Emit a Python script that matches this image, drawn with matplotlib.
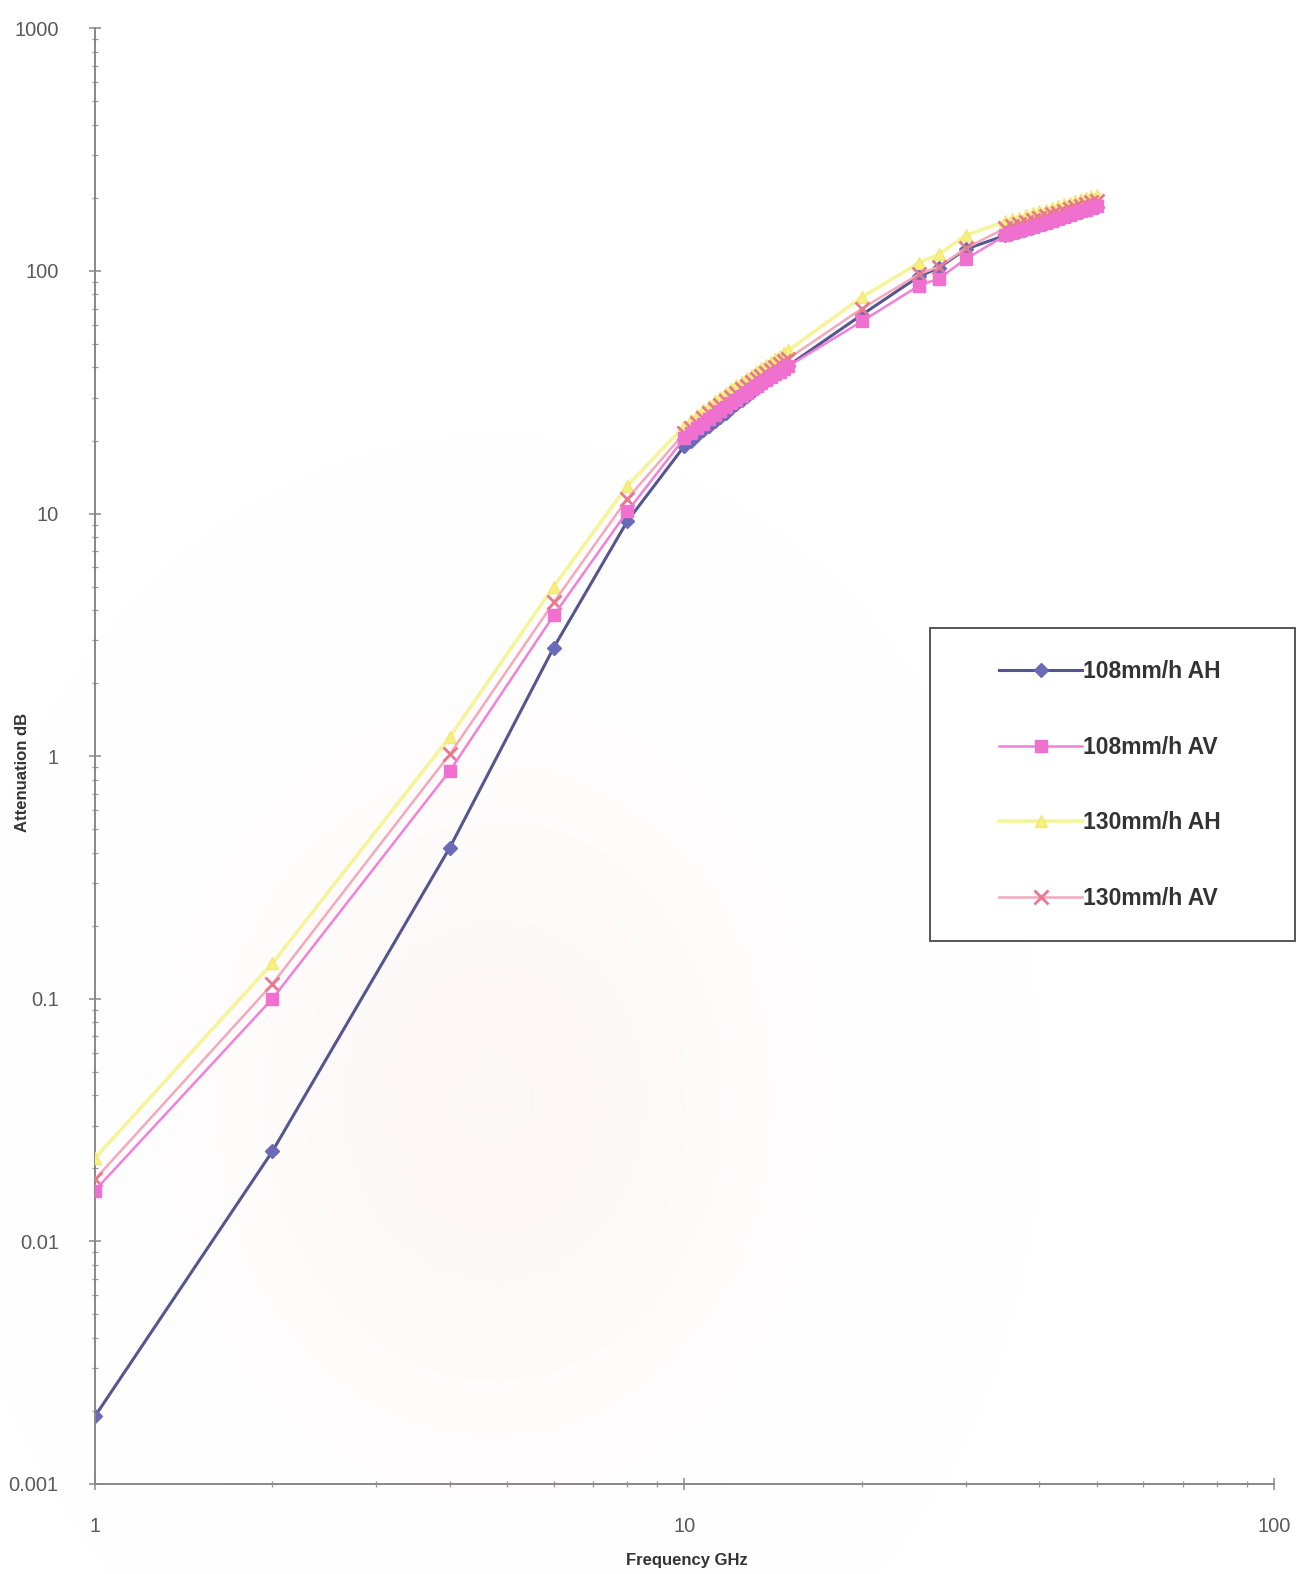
import matplotlib
matplotlib.use("Agg")
import numpy as np
import matplotlib.pyplot as plt
from matplotlib.patches import Rectangle
from matplotlib.ticker import FixedLocator, FixedFormatter, LogLocator, NullFormatter

plt.rcParams['font.family'] = ['Liberation Sans', 'DejaVu Sans']

# frequency points (GHz)
freq = [1, 2, 4, 6, 8,
        10, 10.25, 10.5, 10.75, 11, 11.25, 11.5, 11.75, 12, 12.25, 12.5,
        12.75, 13, 13.25, 13.5, 13.75, 14, 14.25, 14.5, 14.75, 15,
        20, 25, 27, 30,
        35, 36, 37, 38, 39, 40, 41, 42, 43, 44, 45, 46, 47, 48, 49, 50]

# attenuation (dB)
ah_108 = [0.0019, 0.0235, 0.42, 2.8, 9.3,
          19, 20, 21, 22, 23, 24, 25, 26, 27.3, 28.4, 29.5,
          30.6, 31.7, 32.8, 34, 35.2, 36.3, 37.4, 38.5, 39.6, 40.7,
          66, 95, 103, 123,
          140, 143, 146, 149, 152, 155, 158, 161, 164, 167, 170, 172, 175, 178, 181, 184]

av_108 = [0.0162, 0.1, 0.87, 3.8, 10.2,
          20.5, 21.5, 22.5, 23.5, 24.5, 25.5, 26.5, 27.5, 28.5, 29.5, 30.5,
          31.5, 32.5, 33.5, 34.5, 35.5, 36.5, 37.5, 38.5, 39.5, 40.5,
          62, 87, 93, 112,
          140, 143, 146, 149, 152, 155, 158, 161, 164, 167, 170, 173, 176, 179, 182, 185]

ah_130 = [0.022, 0.14, 1.2, 5.0, 13,
          23, 24.2, 25.4, 26.6, 27.8, 29, 30.2, 31.4, 32.6, 33.8, 35,
          36.2, 37.4, 38.6, 39.8, 41, 42.2, 43.4, 44.6, 45.8, 47,
          78, 108, 117, 140,
          160, 163, 166, 170, 173, 176, 179, 182, 185, 188, 191, 194, 197, 200, 203, 206]

av_130 = [0.018, 0.115, 1.02, 4.3, 11.5,
          21.5, 22.6, 23.7, 24.8, 25.9, 27, 28.1, 29.2, 30.3, 31.4, 32.5,
          33.6, 34.7, 35.8, 36.9, 38, 39.1, 40.2, 41.3, 42.4, 43.5,
          70, 97, 104, 124,
          150, 153, 156, 159, 162, 165, 168, 171, 174, 177, 180, 183, 186, 189, 192, 195]

labels = ['108mm/h AH', '108mm/h AV', '130mm/h AH', '130mm/h AV']
y_ticks = [0.001, 0.01, 0.1, 1, 10, 100, 1000]
y_tick_labels = ['0.001', '0.01', '0.1', '1', '10', '100', '1000']
x_ticks = [1, 10, 100]
x_tick_labels = ['1', '10', '100']

fig = plt.figure(figsize=(13, 15.74), dpi=100)

# faint pink tint of the scanned page
bg = fig.add_axes([0, 0, 1, 1], zorder=-10)
gx, gy = np.meshgrid(np.linspace(0, 1, 260), np.linspace(0, 1, 315))
glow = np.exp(-((gx - 0.38) / 0.22) ** 2 - ((gy - 0.30) / 0.22) ** 2)
tint = np.ones((315, 260, 4))
tint[..., 0] = 0.95
tint[..., 1] = 0.80
tint[..., 2] = 0.80
tint[..., 3] = 0.16 * glow
bg.imshow(tint, extent=[0, 1, 0, 1], origin='lower', aspect='auto', interpolation='bilinear')
bg.axis('off')

ax = fig.add_axes([0.073, 0.0572, 0.907, 0.9248])
ax.patch.set_alpha(0)

ax.plot(freq, ah_108, color='#55558f', lw=2.2, marker='D', ms=7.5,
        mfc='#6a6ab8', mec='#6a6ab8', label=labels[0], zorder=2)
ax.plot(freq, ah_130, color='#f6f49a', lw=2.6, marker='^', ms=8,
        mfc='#f6f080', mec='#f2e878', label=labels[2], zorder=3)
ax.plot(freq, av_130, color='#f4a8bc', lw=1.8, marker='x', ms=10, mew=2,
        mec='#e8788f', label=labels[3], zorder=4)
ax.plot(freq, av_108, color='#f080d8', lw=1.8, marker='s', ms=9,
        mfc='#f070d0', mec='#f070d0', label=labels[1], zorder=5)

ax.set_xscale('log')
ax.set_yscale('log')
ax.set_xlim(1, 100)
ax.set_ylim(0.001, 1000)

ax.yaxis.set_major_locator(FixedLocator(y_ticks))
ax.yaxis.set_major_formatter(FixedFormatter(y_tick_labels))
ax.xaxis.set_major_locator(FixedLocator(x_ticks))
ax.xaxis.set_major_formatter(FixedFormatter(x_tick_labels))
ax.yaxis.set_minor_locator(LogLocator(base=10, subs=range(2, 10)))
ax.xaxis.set_minor_locator(LogLocator(base=10, subs=range(2, 10)))
ax.yaxis.set_minor_formatter(NullFormatter())
ax.xaxis.set_minor_formatter(NullFormatter())

for side in ['top', 'right']:
    ax.spines[side].set_visible(False)
for side in ['left', 'bottom']:
    ax.spines[side].set_color('#888888')
    ax.spines[side].set_linewidth(1.4)

ax.tick_params(which='major', direction='inout', length=8, width=1.1,
               color='#888888', labelcolor='#5a5a5a', labelsize=14.5)
ax.tick_params(axis='y', which='major', pad=22)
ax.tick_params(axis='x', which='major', pad=20)
ax.tick_params(which='minor', direction='inout', length=5, width=0.9, color='#999999')

fig.text(0.017, 0.509, 'Attenuation dB', rotation=90, ha='center', va='center',
         fontsize=12, fontweight='bold', color='#333333')
fig.text(0.528, 0.0085, 'Frequency GHz', ha='center', va='center',
         fontsize=12, fontweight='bold', color='#333333')

# legend inside a hand-drawn box
handles, labs = ax.get_legend_handles_labels()
order = [labs.index(l) for l in labels]
leg = fig.legend([handles[i] for i in order], [labs[i] for i in order],
                 loc='upper left', bbox_to_anchor=(0.760, 0.588),
                 frameon=False, fontsize=16.5, handlelength=3.6, handletextpad=0.05,
                 labelspacing=2.3, borderpad=0)
for t in leg.get_texts():
    t.set_color('#333333')
    t.set_fontweight('bold')

fig.patches.append(Rectangle((0.715, 0.402), 0.281, 0.199, transform=fig.transFigure,
                             facecolor='white', alpha=1, edgecolor='#555555', lw=1.4,
                             zorder=-1))

fig.savefig('out.png', dpi=100)
